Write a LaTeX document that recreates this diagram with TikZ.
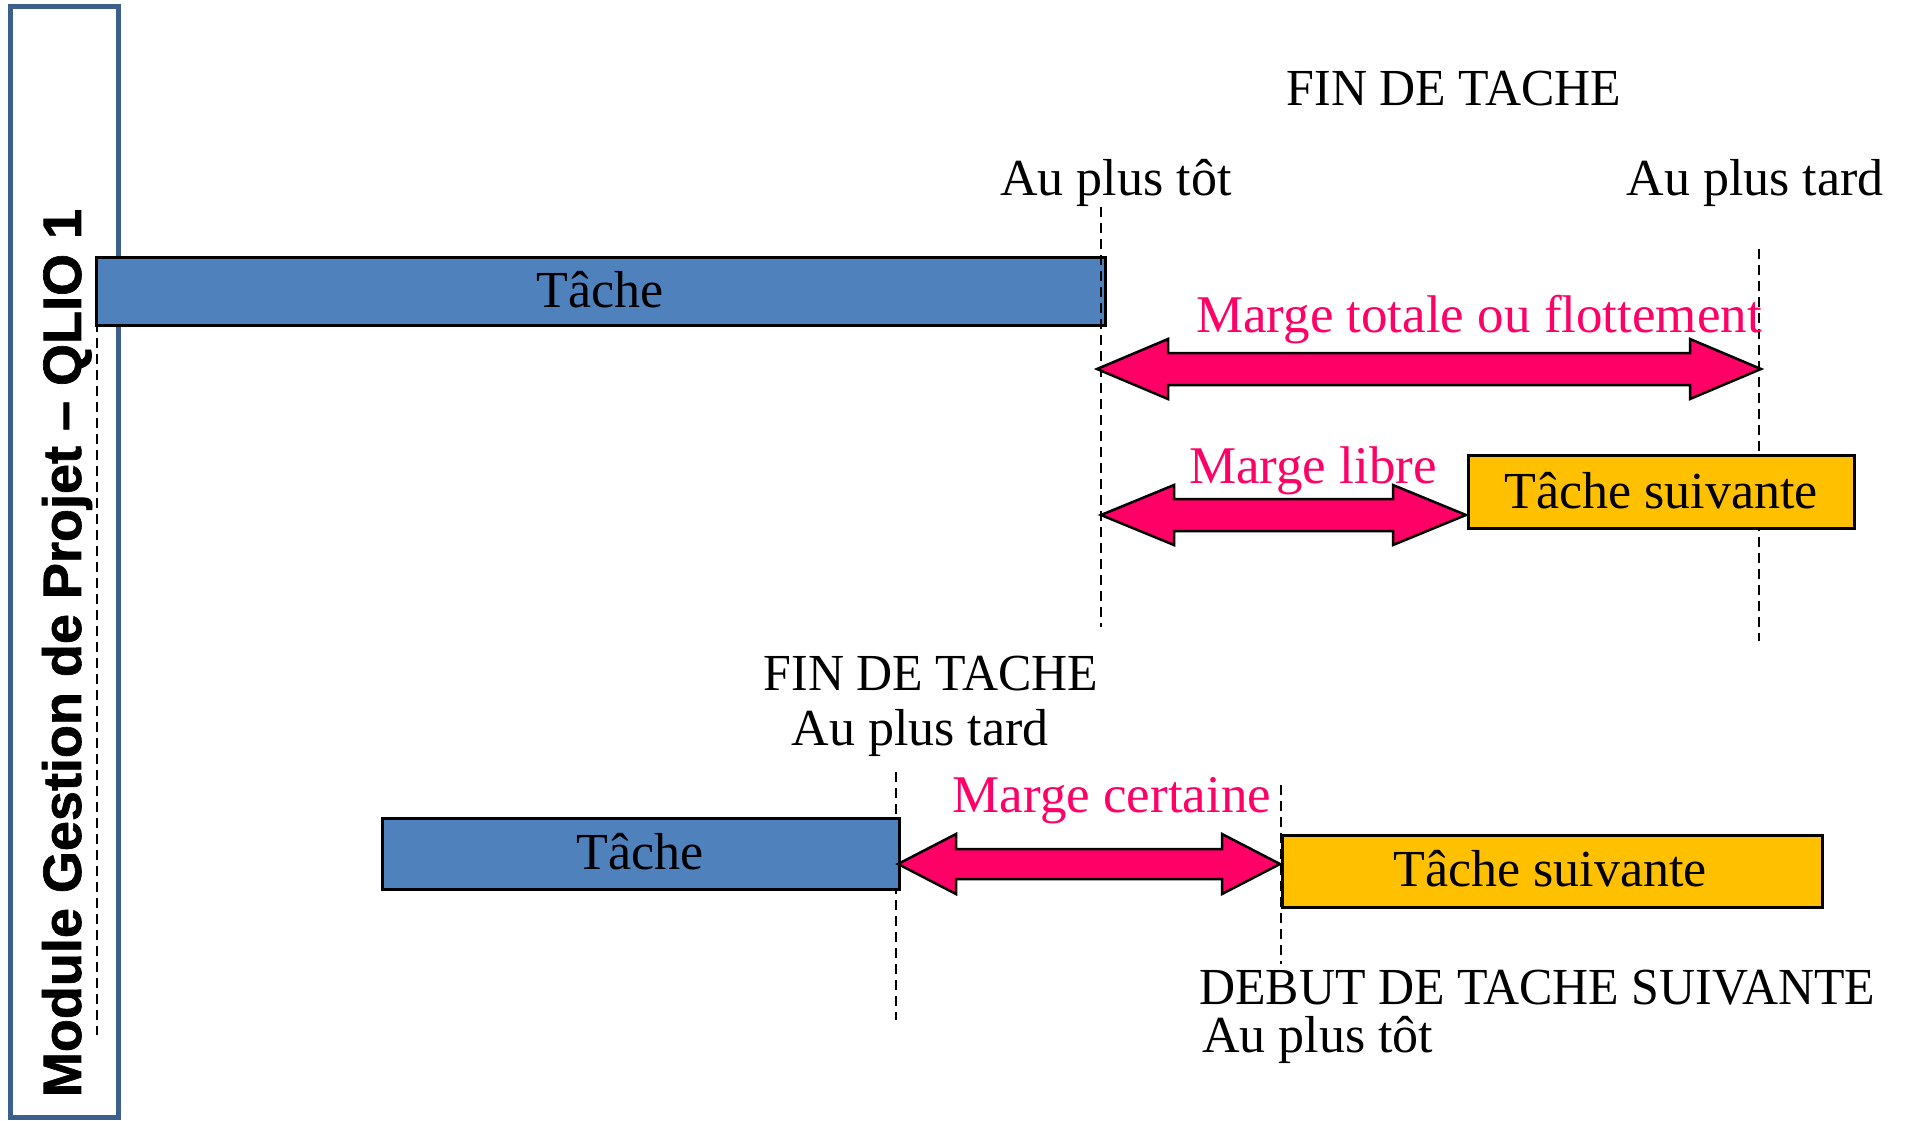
\documentclass[tikz,border=0pt]{standalone}
\usepackage{fontspec}
\setmainfont{Liberation Serif}
\newfontfamily\capsfont{Liberation Serif}[FakeStretch=0.96]
\newfontfamily\sidefont{Liberation Sans Bold}[FakeBold=1.2]
\definecolor{pinkm}{HTML}{FF0066}
\definecolor{taskblue}{HTML}{4F81BD}
\definecolor{taskorange}{HTML}{FFC000}
\definecolor{framecol}{HTML}{3C5F8C}
\tikzset{
  txt/.style={font=\fontsize{52}{60}\selectfont, inner sep=0pt, anchor=base},
  capstxt/.style={txt, font=\capsfont\fontsize{52}{60}\selectfont},
  pinktxt/.style={txt, text=pinkm, font=\fontsize{53}{60}\selectfont},
  taskbox/.style={draw=black, line width=2.5pt, fill=taskblue, inner sep=0pt},
  nextbox/.style={taskbox, fill=taskorange},
  guide/.style={draw=black, line width=2pt, dash pattern=on 10pt off 6pt},
  marge/.style={draw=black, line width=2.5pt, fill=pinkm, line join=miter},
}
% double arrow: #1 left x, #2 right x, #3 y, #4 head length, #5 head half, #6 shaft half
\newcommand\dblarrow[6]{%
  \path[marge] (#1,#3) -- ({#1+#4},{#3-#5}) -- ({#1+#4},{#3-#6}) -- ({#2-#4},{#3-#6})
    -- ({#2-#4},{#3-#5}) -- (#2,#3) -- ({#2-#4},{#3+#5}) -- ({#2-#4},{#3+#6})
    -- ({#1+#4},{#3+#6}) -- ({#1+#4},{#3+#5}) -- cycle;}
\begin{document}
\begin{tikzpicture}[x=1pt,y=-1pt]
\useasboundingbox (0,0) rectangle (1908,1120);
% side frame
\draw[framecol, line width=5pt] (10,6) rectangle (118,1117);
\node[rotate=90, inner sep=0pt, font=\sidefont\fontsize{54}{60}\selectfont] (side) at (67,653) {Module Gestion de Projet – QLIO 1};
\draw[guide] (97,322) -- (97,1035);

% ---------- top part ----------
\node[taskbox, minimum width=1009pt, minimum height=68pt, anchor=north west] (t1) at (95,256) {};
\node[txt] (t1lab) at (600,307) {Tâche};
\coordinate (g1top) at (1101,207);
\coordinate (g1bot) at (1101,627);
\draw[guide] (g1top) -- (g1bot);
\coordinate (g2top) at (1759,249);
\coordinate (g2bot) at (1759,641);
\draw[guide] (g2top) -- (g2bot);

\node[capstxt] (fin1) at (1454,105) {FIN DE TACHE};
\node[txt] (tot1) at (1116,195) {Au plus tôt};
\node[txt] (tard1) at (1755,195) {Au plus tard};

\node[pinktxt] (mt) at (1479,332) {Marge totale ou flottement};
\dblarrow{1097}{1761}{369}{71}{30}{16}

\node[pinktxt] (ml) at (1313,483) {Marge libre};
\dblarrow{1101}{1466}{515}{73}{30}{16}

\node[nextbox, minimum width=386pt, minimum height=73pt, anchor=north west] (n1) at (1467,454) {};
\node[txt] (n1lab) at (1661,508) {Tâche suivante};

% ---------- bottom part ----------
\node[capstxt] (fin2) at (931,690) {FIN DE TACHE};
\node[txt] (tard2) at (920,745) {Au plus tard};

\coordinate (g3top) at (896,772);
\coordinate (g3bot) at (896,1020);
\draw[guide] (g3top) -- (g3bot);
\node[taskbox, minimum width=517pt, minimum height=71pt, anchor=north west] (t2) at (381,817) {};
\node[txt] (t2lab) at (640,869) {Tâche};

\node[pinktxt] (mc) at (1112,812) {Marge certaine};
\dblarrow{898}{1280}{864}{58}{30}{15}

\coordinate (g4top) at (1281,785);
\coordinate (g4bot) at (1281,964);
\draw[guide] (g4top) -- (g4bot);
\node[nextbox, minimum width=540pt, minimum height=72pt, anchor=north west] (n2) at (1281,834) {};
\node[txt] (n2lab) at (1550,886) {Tâche suivante};

\node[capstxt, anchor=base west] (deb) at (1199,1004) {DEBUT DE TACHE SUIVANTE};
\node[txt, anchor=base west] (tot2) at (1202,1052) {Au plus tôt};
\end{tikzpicture}
\end{document}
